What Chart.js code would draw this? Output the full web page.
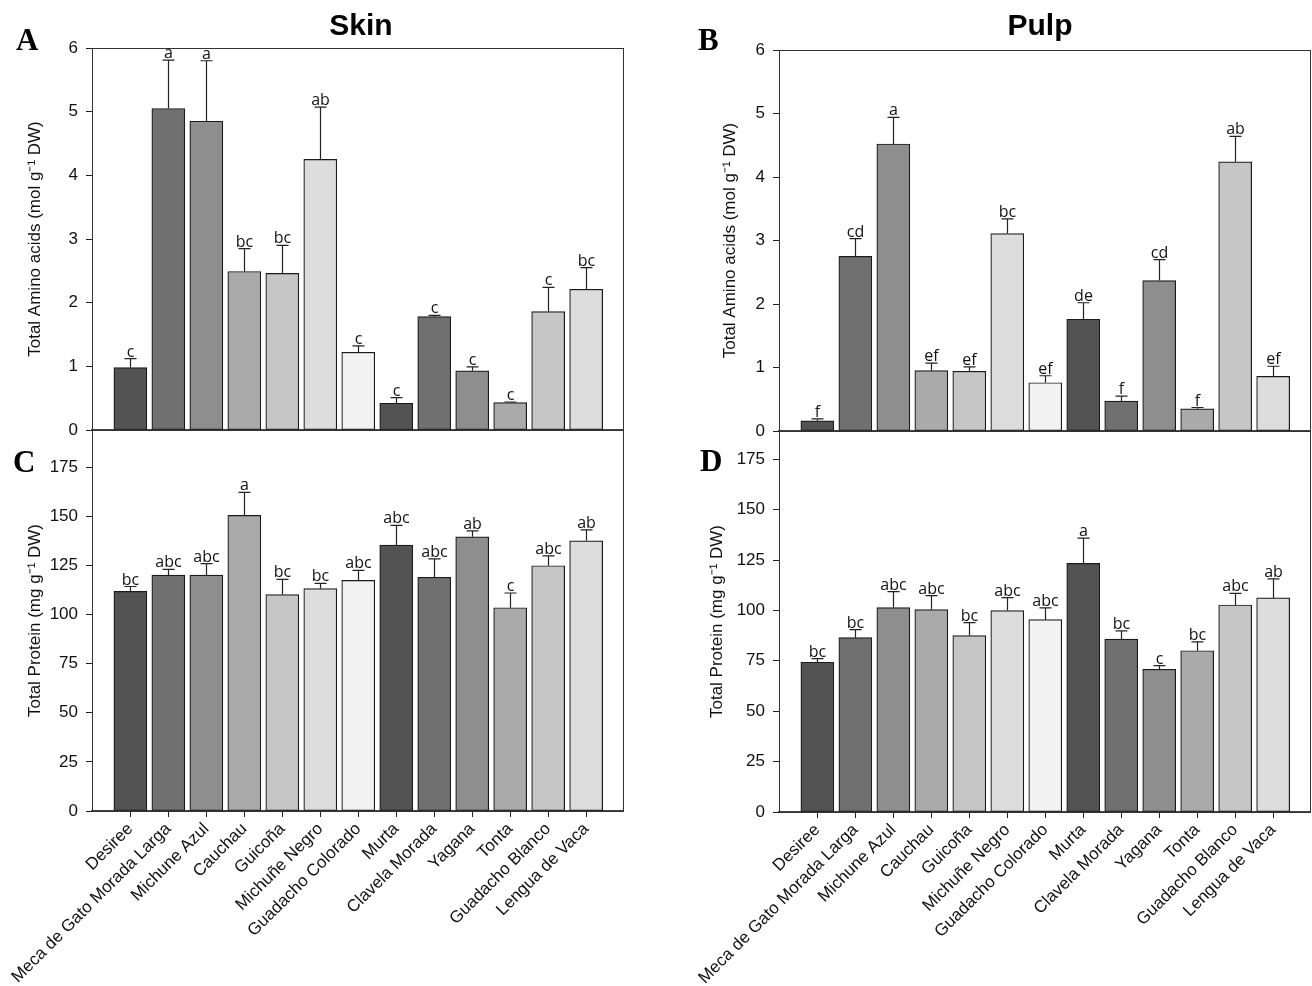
<!DOCTYPE html>
<html>
<head>
<meta charset="utf-8">
<script src="https://cdn.jsdelivr.net/npm/chart.js@4.4.1/dist/chart.umd.min.js"></script>
<style>
  body { margin: 0; background: #fff; }
  #wrap { position: relative; width: 1312px; height: 986px; overflow: hidden; }
  canvas { position: absolute; left: 0; top: 0; }
  .lbl { position: absolute; font-family: 'Liberation Serif', 'Times New Roman', serif; font-weight: bold; font-size: 31px; line-height: 1; color: #000; }
  .ttl { position: absolute; width: 200px; text-align: center; font-family: 'Liberation Sans', Arial, sans-serif; font-weight: bold; font-size: 30px; line-height: 1; color: #000; }
</style>
</head>
<body>
<div id="wrap">
  <canvas id="chartA" width="1312" height="986"></canvas>
  <canvas id="chartB" width="1312" height="986"></canvas>
  <canvas id="chartC" width="1312" height="986"></canvas>
  <canvas id="chartD" width="1312" height="986"></canvas>
  <div class="ttl" style="left:261px;top:10px">Skin</div>
  <div class="ttl" style="left:940px;top:10px">Pulp</div>
  <div class="lbl" style="left:16px;top:24px">A</div>
  <div class="lbl" style="left:698px;top:24px">B</div>
  <div class="lbl" style="left:13px;top:446px">C</div>
  <div class="lbl" style="left:700px;top:445px">D</div>
</div>
<script>
// cultivares
const cultivars = ["Desiree", "Meca de Gato Morada Larga", "Michune Azul", "Cauchau", "Guicoña",
  "Michuñe Negro", "Guadacho Colorado", "Murta", "Clavela Morada", "Yagana", "Tonta",
  "Guadacho Blanco", "Lengua de Vaca"];

// A - aminoácidos piel
const skinAmino = [0.98, 5.05, 4.85, 2.49, 2.46, 4.25, 1.22, 0.42, 1.78, 0.93, 0.43, 1.86, 2.21];
const skinAminoErr = [0.14, 0.76, 0.95, 0.36, 0.44, 0.82, 0.10, 0.09, 0.02, 0.06, 0.01, 0.38, 0.34];
const skinAminoLetters = ["c", "a", "a", "bc", "bc", "ab", "c", "c", "c", "c", "c", "c", "bc"];

// B - aminoácidos pulpa
const pulpAmino = [0.16, 2.75, 4.52, 0.95, 0.94, 3.11, 0.76, 1.76, 0.47, 2.37, 0.35, 4.24, 0.86];
const pulpAminoErr = [0.03, 0.28, 0.42, 0.12, 0.07, 0.23, 0.11, 0.26, 0.08, 0.33, 0.02, 0.40, 0.16];
const pulpAminoLetters = ["f", "cd", "a", "ef", "ef", "bc", "ef", "de", "f", "cd", "f", "ab", "ef"];

// C - proteína piel
const skinProtein = [111.8, 120.1, 120.1, 150.5, 110.2, 113.2, 117.4, 135.4, 119.0, 139.6, 103.5, 124.9, 137.6];
const skinProteinErr = [2.5, 2.9, 5.9, 11.7, 7.7, 2.7, 5.1, 10.0, 9.4, 3.0, 7.5, 5.0, 5.5];
const skinProteinLetters = ["bc", "abc", "abc", "a", "bc", "bc", "abc", "abc", "abc", "ab", "c", "abc", "ab"];

// D - proteína pulpa
const pulpProtein = [74.3, 86.5, 101.4, 100.4, 87.5, 99.9, 95.4, 123.3, 85.8, 70.8, 80.0, 102.7, 106.2];
const pulpProteinErr = [1.8, 4.0, 7.9, 6.9, 6.4, 6.4, 5.9, 12.6, 4.0, 1.8, 4.4, 5.8, 9.4];
const pulpProteinLetters = ["bc", "bc", "abc", "abc", "bc", "abc", "abc", "a", "bc", "c", "bc", "abc", "ab"];

// ticks
const aminoTicks = [0, 1, 2, 3, 4, 5, 6];
const proteinTicks = [0, 25, 50, 75, 100, 125, 150, 175];

const grays = ["#535353", "#707070", "#8e8e8e", "#aaaaaa", "#c5c6c5", "#dcdddc", "#f2f2f2",
  "#535353", "#707070", "#8e8e8e", "#aaaaaa", "#c5c6c5", "#dcdddc"];

Chart.defaults.font.family = "'Liberation Sans', Arial, sans-serif";
Chart.defaults.font.size = 17;
Chart.defaults.color = "#111";

const W = 1312, H = 986;

// marco del gráfico
const framePlugin = {
  id: "frame",
  afterDatasetsDraw(chart) {
    const { ctx, chartArea: a } = chart;
    ctx.save();
    ctx.strokeStyle = "#333";
    ctx.lineWidth = 1;
    ctx.strokeRect(a.left + 0.5, a.top + 0.5, a.right - a.left, a.bottom - a.top);
    ctx.restore();
  },
};

// barras de error y letras
const errorPlugin = {
  id: "errors",
  afterDatasetsDraw(chart, args, opts) {
    const { ctx } = chart;
    const yScale = chart.scales.y;
    const meta = chart.getDatasetMeta(0);
    ctx.save();
    ctx.strokeStyle = "#222";
    ctx.lineWidth = 1.2;
    ctx.fillStyle = "#111";
    ctx.font = "16px 'Open Sans', 'Noto Sans', sans-serif";
    ctx.textAlign = "center";
    ctx.textBaseline = "alphabetic";
    meta.data.forEach((bar, i) => {
      const x = Math.round(bar.x) + 0.5;
      const yTop = bar.y;
      const yErr = yScale.getPixelForValue(opts.values[i] + opts.errs[i]);
      ctx.beginPath();
      ctx.moveTo(x, yTop);
      ctx.lineTo(x, yErr);
      ctx.moveTo(x - 6, yErr);
      ctx.lineTo(x + 6, yErr);
      ctx.stroke();
      ctx.fillText(opts.letters[i], x, yErr - 2);
    });
    ctx.restore();
  },
};

function makeChart(id, cfg) {
  const xHeight = cfg.showLabels ? H - cfg.box.bottom : 0;
  return new Chart(document.getElementById(id), {
    type: "bar",
    data: {
      datasets: [{
        data: cfg.values.map((v, i) => ({ x: i, y: v })),
        backgroundColor: grays,
        borderColor: "#1a1a1a",
        borderWidth: 1.2,
        borderSkipped: false,
        barThickness: 33,
      }],
    },
    options: {
      responsive: false,
      animation: false,
      devicePixelRatio: 1,
      layout: {
        padding: {
          left: cfg.box.left - 92,
          top: cfg.box.top,
          right: W - cfg.box.right,
          bottom: H - cfg.box.bottom - xHeight,
        },
      },
      plugins: {
        legend: { display: false },
        tooltip: { enabled: false },
        errors: { values: cfg.values, errs: cfg.errs, letters: cfg.letters },
      },
      scales: {
        x: {
          type: "linear",
          offset: false,
          min: -1.01,
          max: 12.97,
          afterBuildTicks: (s) => { s.ticks = cultivars.map((c, i) => ({ value: i })); },
          afterFit: (s) => { s.height = xHeight; },
          ticks: {
            display: cfg.showLabels,
            autoSkip: false,
            minRotation: 45,
            maxRotation: 45,
            padding: 2,
            color: "#111",
            callback: (v) => cultivars[v],
          },
          grid: {
            display: cfg.showLabels,
            offset: false,
            drawOnChartArea: false,
            drawTicks: cfg.showLabels,
            tickLength: 6,
            color: "#222",
          },
          border: { display: true, color: "#444", width: 1.2 },
        },
        y: {
          min: 0,
          max: cfg.yMax,
          afterBuildTicks: (s) => { s.ticks = cfg.ticks.map((v) => ({ value: v })); },
          afterFit: (s) => { s.width = 92; },
          ticks: { padding: 8, color: "#111" },
          grid: { drawOnChartArea: false, tickLength: 6, color: "#222" },
          border: { display: true, color: "#333", width: 1 },
          title: {
            display: true,
            text: cfg.yTitle,
            font: { size: 17 },
            color: "#111",
            padding: { top: cfg.titlePad, bottom: 0 },
          },
        },
      },
    },
    plugins: [framePlugin, errorPlugin],
  });
}

makeChart("chartA", {
  values: skinAmino, errs: skinAminoErr, letters: skinAminoLetters,
  yMax: 6, ticks: aminoTicks, yTitle: "Total Amino acids (mol g⁻¹ DW)", titlePad: 25,
  box: { left: 92, top: 48, right: 623, bottom: 430 }, showLabels: false,
});
makeChart("chartB", {
  values: pulpAmino, errs: pulpAminoErr, letters: pulpAminoLetters,
  yMax: 6, ticks: aminoTicks, yTitle: "Total Amino acids (mol g⁻¹ DW)", titlePad: 33,
  box: { left: 779, top: 50, right: 1310, bottom: 431 }, showLabels: false,
});
makeChart("chartC", {
  values: skinProtein, errs: skinProteinErr, letters: skinProteinLetters,
  yMax: 194, ticks: proteinTicks, yTitle: "Total Protein (mg g⁻¹ DW)", titlePad: 25,
  box: { left: 92, top: 430, right: 623, bottom: 811 }, showLabels: true,
});
makeChart("chartD", {
  values: pulpProtein, errs: pulpProteinErr, letters: pulpProteinLetters,
  yMax: 189, ticks: proteinTicks, yTitle: "Total Protein (mg g⁻¹ DW)", titlePad: 20,
  box: { left: 779, top: 431, right: 1310, bottom: 812 }, showLabels: true,
});
</script>
</body>
</html>
